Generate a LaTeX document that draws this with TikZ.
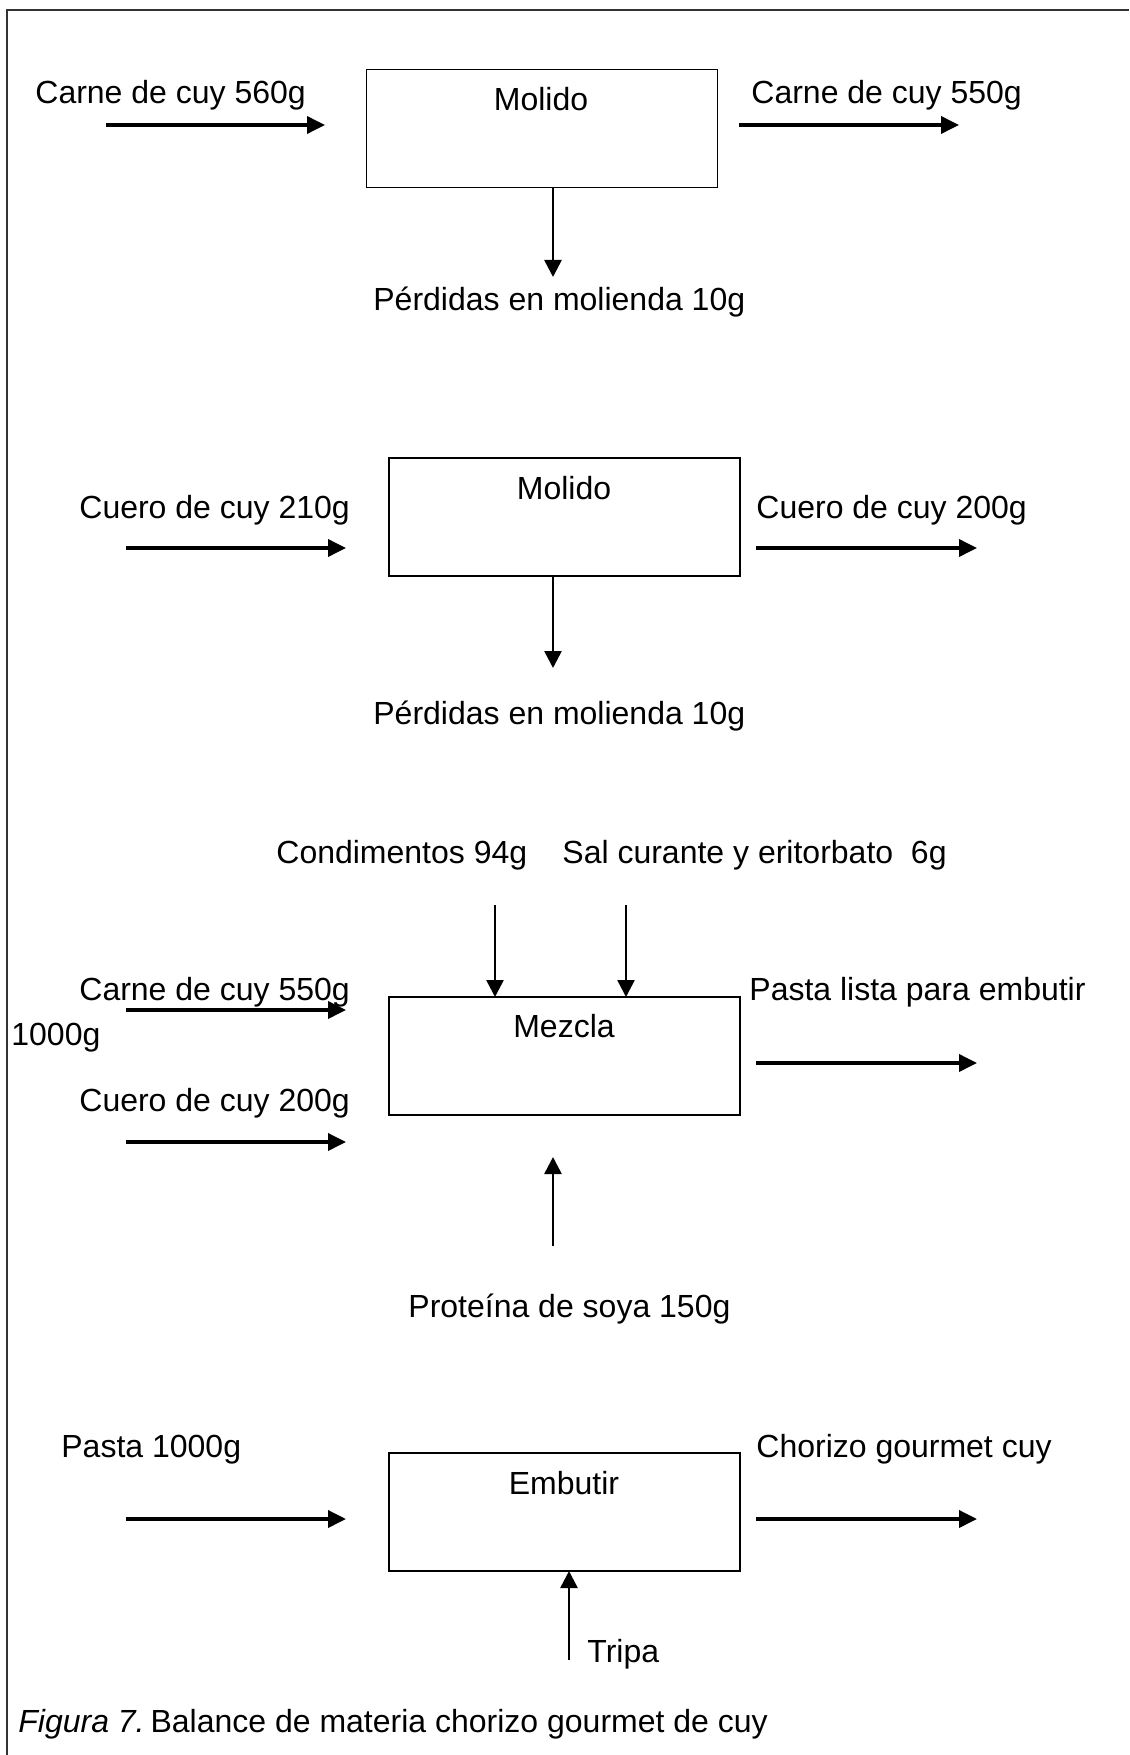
\documentclass[tikz,border=0pt]{standalone}
\usepackage{fontspec}
\setmainfont{Liberation Sans}
\usetikzlibrary{positioning,arrows.meta}

\begin{document}
\begin{tikzpicture}[x=0.5pt, y=-0.5pt, font=\fontsize{16}{19}\selectfont,
  caja/.style={draw, line width=0.8pt, minimum width=175.5pt, minimum height=59pt, inner sep=0pt, outer sep=0pt},
  texto/.style={inner sep=0pt, anchor=base west},
  titulo/.style={inner sep=0pt, anchor=base},
  flecha/.style={line width=1.8pt, -{Triangle[length=9pt, width=8.5pt]}},
  flechav/.style={line width=1.3pt, -{Triangle[length=8.5pt, width=8.5pt]}}]

  \useasboundingbox (0,0) rectangle (1129,1755);

  % === Marco ===
  \draw[line width=1pt, black!80] (7,1755) -- (7,10) -- (1129,10);

  % === Cajas de proceso ===
  \node[caja] (b1) at (542,128.5) {};
  \node[caja] (b2) at (564.5,517) {};
  \node[caja] (b3) at (564.5,1056) {};
  \node[caja] (b4) at (564.5,1512) {};

  \node[titulo] (t1) at (541,111)  {Molido};
  \node[titulo] (t2) at (564,499)  {Molido};
  \node[titulo] (t3) at (564,1037) {Mezcla};
  \node[titulo] (t4) at (564,1494) {Embutir};

  % === Molido de carne ===
  \node[texto] (c1in)  at (35,104)  {Carne de cuy 560g};
  \node[texto] (c1out) at (751,104) {Carne de cuy 550g};
  \node[texto] (p1)    at (373,310) {Pérdidas en molienda 10g};
  \coordinate (h1a) at (106,125); \coordinate (h1b) at (325,125);
  \coordinate (h2a) at (739,125); \coordinate (h2b) at (959,125);
  \coordinate (v1)  at (553,277);
  \draw[flecha] (h1a) -- (h1b);
  \draw[flecha] (h2a) -- (h2b);
  \draw[flechav] (v1 |- b1.south) -- (v1);

  % === Molido de cuero ===
  \node[texto] (c2in)  at (79,518)  {Cuero de cuy 210g};
  \node[texto] (c2out) at (756,518) {Cuero de cuy 200g};
  \node[texto] (p2)    at (373,724) {Pérdidas en molienda 10g};
  \coordinate (v2) at (553,668);
  \draw[flechav] (v2 |- b2.south) -- (v2);

  % Flechas horizontales repetidas (cuero y embutido)
  \foreach \n/\y in {2/548, 4/1519} {
    \coordinate (e\n a) at (126,\y); \coordinate (e\n b) at (346,\y);
    \coordinate (s\n a) at (756,\y); \coordinate (s\n b) at (977,\y);
    \draw[flecha] (e\n a) -- (e\n b);
    \draw[flecha] (s\n a) -- (s\n b);
  }

  % === Mezcla ===
  \node[texto] (cond) at (276,863) {Condimentos 94g};
  \node[texto] (sal)  at (562,863) {Sal curante y eritorbato~~6g};
  \coordinate (v3) at (495,905); \coordinate (v4) at (626,905);
  \draw[flechav] (v3) -- (v3 |- b3.north);
  \draw[flechav] (v4) -- (v4 |- b3.north);

  \node[texto] (c3in)  at (79,1000)  {Carne de cuy 550g};
  \node[texto] (tot)   at (11,1045)  {1000g};
  \node[texto] (c3cu)  at (79,1111)  {Cuero de cuy 200g};
  \node[texto] (c3out) at (749,1000) {Pasta lista para embutir};
  \coordinate (e3a) at (126,1010); \coordinate (e3b) at (346,1010);
  \coordinate (e5a) at (126,1142); \coordinate (e5b) at (346,1142);
  \coordinate (s3a) at (756,1063); \coordinate (s3b) at (977,1063);
  \draw[flecha] (e3a) -- (e3b);
  \draw[flecha] (e5a) -- (e5b);
  \draw[flecha] (s3a) -- (s3b);

  \node[texto] (prot) at (408,1317) {Proteína de soya 150g};
  \coordinate (v5a) at (553,1246); \coordinate (v5b) at (553,1157);
  \draw[flechav] (v5a) -- (v5b);

  % === Embutido ===
  \node[texto] (c4in)  at (61,1457)  {Pasta 1000g};
  \node[texto] (c4out) at (756,1457) {Chorizo gourmet cuy};
  \node[texto] (trip)  at (587,1662) {Tripa};
  \coordinate (v6) at (569,1660);
  \draw[flechav] (v6) -- (v6 |- b4.south);

  % === Leyenda ===
  \node[texto] (leyenda) at (18,1732) {{\itshape Figura 7.}\kern-1.5pt\ Balance de materia chorizo gourmet de cuy};

\end{tikzpicture}
\end{document}
